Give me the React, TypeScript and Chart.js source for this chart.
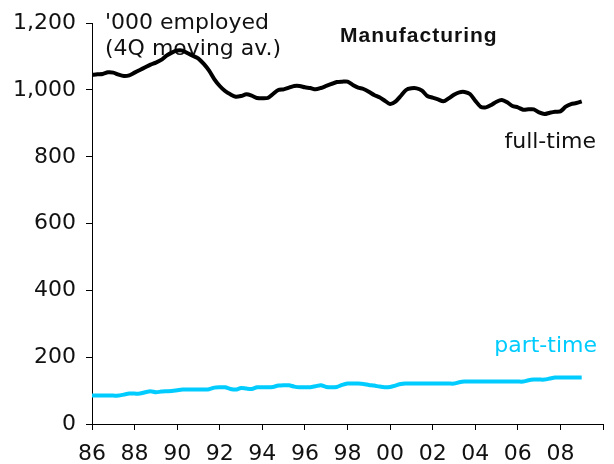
import React, { useEffect, useRef } from "react";
import { Chart, registerables } from "chart.js";

Chart.register(...registerables);

const START_YEAR = 1986;
const END_YEAR = 2010;

// Quarterly values, 1986 Q1 .. 2009 Q1 ('000 employed, 4Q moving average)
const fullTime = [
  1045, 1047, 1048, 1053, 1052, 1046, 1042, 1044,
  1052, 1060, 1068, 1076, 1082, 1090, 1103, 1112,
  1118, 1118, 1110, 1102, 1094, 1078, 1058, 1032,
  1012, 997, 987, 980, 982, 987, 983, 976,
  975, 976, 988, 1000, 1002, 1007, 1012, 1012,
  1008, 1006, 1002, 1006, 1012, 1018, 1024, 1025,
  1025, 1015, 1007, 1003, 995, 985, 978, 968,
  958, 965, 982, 1000, 1005, 1005, 998, 982,
  977, 972, 966, 975, 986, 993, 994, 988,
  968, 950, 948, 955, 965, 970, 963, 952,
  948, 941, 942, 942, 933, 928, 932, 935,
  936, 950, 958, 961, 966,
];

const partTime = [
  85, 85, 85, 85, 85, 85, 88, 91,
  91, 91, 95, 98, 95, 97, 98, 99,
  101, 103, 103, 103, 103, 103, 104, 109,
  110, 110, 105, 103, 108, 106, 105, 110,
  110, 110, 111, 115, 116, 116, 112, 110,
  110, 110, 113, 116, 111, 110, 111, 117,
  121, 121, 121, 120, 117, 115, 112, 110,
  111, 115, 120, 121, 121, 121, 121, 121,
  121, 121, 121, 121, 121, 125, 127, 127,
  127, 127, 127, 127, 127, 127, 127, 127,
  127, 127, 131, 133, 133, 133, 136, 139,
  139, 139, 139, 139, 139,
];

const yTicks = [0, 200, 400, 600, 800, 1000, 1200];

const TITLE = "Manufacturing";
const UNIT_LINE1 = "'000 employed";
const UNIT_LINE2 = "(4Q moving av.)";
const FULL_LABEL = "full-time";
const PART_LABEL = "part-time";

const BLACK = "#000000";
const CYAN = "#00CCFF";
const FONT = "'DejaVu Sans', sans-serif";

export default function App() {
  const ref = useRef<HTMLCanvasElement | null>(null);

  useEffect(() => {
    if (!ref.current) return;
    const ftData = fullTime.map((v, i) => ({ x: START_YEAR + i / 4, y: v }));
    const ptData = partTime.map((v, i) => ({ x: START_YEAR + i / 4, y: v }));

    const textPlugin = {
      id: "annotations",
      beforeDatasetsDraw(chart: any) {
        const ctx = chart.ctx as CanvasRenderingContext2D;
        ctx.save();
        ctx.textBaseline = "alphabetic";
        ctx.fillStyle = "#111111";
        ctx.font = `22px ${FONT}`;
        ctx.textAlign = "left";
        ctx.fillText(UNIT_LINE1, 105, 29);
        ctx.fillText(UNIT_LINE2, 105, 55);
        ctx.textAlign = "right";
        ctx.fillText(FULL_LABEL, 596, 148);
        ctx.fillStyle = CYAN;
        ctx.fillText(PART_LABEL, 597, 352);
        ctx.fillStyle = "#111111";
        ctx.textAlign = "left";
        ctx.font = `bold 21px 'Liberation Sans', Arial, sans-serif`;
        (ctx as any).letterSpacing = "1px";
        ctx.fillText(TITLE, 340, 42);
        ctx.restore();
      },
    };

    const chart = new Chart(ref.current, {
      type: "line",
      data: {
        datasets: [
          {
            label: FULL_LABEL,
            data: ftData,
            borderColor: BLACK,
            borderWidth: 4,
            pointRadius: 0,
            tension: 0.25,
            fill: false,
          },
          {
            label: PART_LABEL,
            data: ptData,
            borderColor: CYAN,
            borderWidth: 4,
            pointRadius: 0,
            tension: 0.25,
            fill: false,
          },
        ],
      },
      options: {
        animation: false,
        responsive: false,
        maintainAspectRatio: false,
        layout: { padding: { top: 23, right: 2, left: 0, bottom: 0 } },
        plugins: {
          legend: { display: false },
          tooltip: { enabled: false },
          title: { display: false },
        },
        scales: {
          x: {
            type: "linear",
            min: START_YEAR,
            max: END_YEAR,
            afterFit: (s: any) => {
              s.height = 40;
            },
            afterBuildTicks: (s: any) => {
              const t = [];
              for (let y = START_YEAR; y <= END_YEAR; y += 2) t.push({ value: y });
              s.ticks = t;
            },
            ticks: {
              autoSkip: false,
              maxRotation: 0,
              padding: 11,
              color: "#111111",
              font: { family: FONT, size: 22 },
              callback: (v: any) =>
                v === END_YEAR ? "" : String(Number(v) % 100).padStart(2, "0"),
            },
            grid: {
              drawOnChartArea: false,
              drawTicks: true,
              tickLength: 6,
              color: BLACK,
              lineWidth: 1,
            },
            border: { display: true, color: BLACK, width: 1 },
          },
          y: {
            type: "linear",
            min: 0,
            max: 1200,
            afterFit: (s: any) => {
              s.width = 92;
            },
            afterBuildTicks: (s: any) => {
              s.ticks = yTicks.map((v) => ({ value: v }));
            },
            ticks: {
              padding: 10,
              color: "#111111",
              font: { family: FONT, size: 22 },
              callback: (v: any) => Number(v).toLocaleString("en-US"),
            },
            grid: {
              drawOnChartArea: false,
              drawTicks: true,
              tickLength: 6,
              color: BLACK,
              lineWidth: 1,
            },
            border: { display: true, color: BLACK, width: 1 },
          },
        },
      },
      plugins: [textPlugin],
    });
    return () => chart.destroy();
  }, []);

  return (
    <div style={{ position: "fixed", left: 0, top: 0, width: 614, height: 464, background: "#fff" }}>
      <canvas ref={ref} width={614} height={464} style={{ width: 614, height: 464 }} />
    </div>
  );
}
